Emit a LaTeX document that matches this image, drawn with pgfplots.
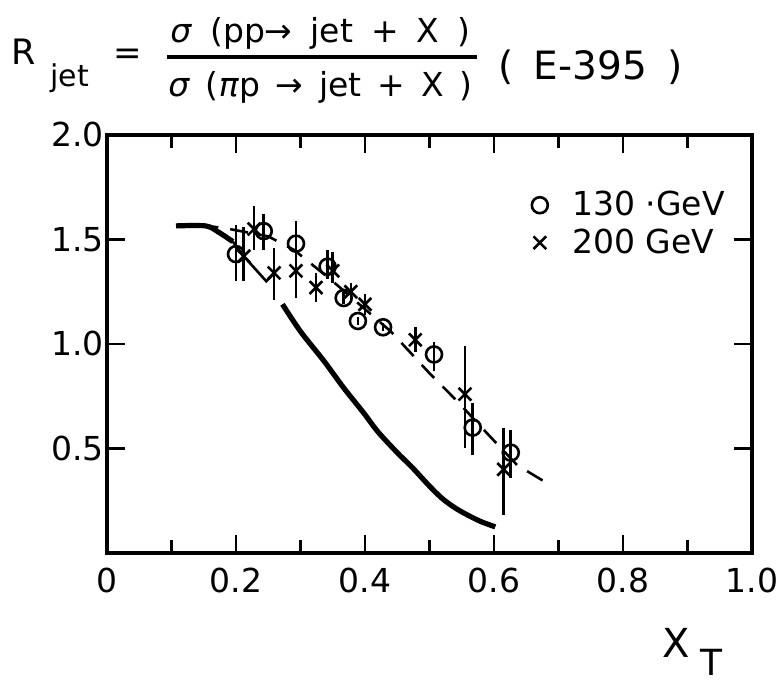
\documentclass[border=0pt]{standalone}
\usepackage{pgfplots}
\pgfplotsset{compat=1.18}
\usepackage{fontspec}
\setmainfont{DejaVu Sans}

\begin{document}
\begin{tikzpicture}[x=1pt,y=1pt]
\useasboundingbox (0,0) rectangle (390.5,344);
\begin{axis}[
  at={(53.5pt,67.5pt)}, anchor=south west,
  scale only axis, width=322.5pt, height=209pt,
  xmin=0, xmax=1, ymin=0, ymax=2,
  axis line style={line width=1.6pt},
  xtick={0,0.2,0.4,0.6,0.8,1.0},
  xticklabels={0,0.2,0.4,0.6,0.8,1.0},
  minor xtick={0.1,0.3,0.5,0.7,0.9},
  ytick={0.5,1.0,1.5,2.0},
  yticklabels={0.5,1.0,1.5,2.0},
  tick align=inside,
  major tick length=9pt, minor tick length=6.5pt,
  every tick/.style={line width=1.3pt, black},
  ticklabel style={font=\fontsize{16.5}{18}\selectfont},
  xticklabel style={yshift=-4pt},
  yticklabel style={xshift=2pt},
  legend style={draw=none, fill=none, at={(rel axis cs:0.645,0.885)}, anchor=north west,
     font=\fontsize{16.5}{18}\selectfont, row sep=1pt, cells={anchor=west}},
  legend image code/.code={\path (-5pt,0pt) (14pt,0pt);
     \draw[mark repeat=2,mark phase=2,#1] plot coordinates {(-5pt,0pt) (0pt,0pt) (14pt,0pt)};},
]
% theory curves
\addplot[line width=2.6pt, smooth, forget plot] coordinates {
 (0.107,1.565) (0.153,1.565) (0.173,1.535) (0.195,1.49)};
\addplot[line width=1.3pt, forget plot] coordinates {
 (0.195,1.49) (0.212,1.42) (0.247,1.30) (0.26,1.34)};
\addplot[line width=2.6pt, smooth, forget plot] coordinates {
 (0.272,1.19) (0.30,1.06) (0.336,0.92) (0.367,0.79) (0.398,0.67) (0.42,0.58)
 (0.45,0.48) (0.473,0.41) (0.50,0.32) (0.52,0.26) (0.54,0.215) (0.56,0.18)
 (0.58,0.15) (0.602,0.125)};
\addplot[line width=1.3pt, dash pattern=on 9pt off 6pt, forget plot] coordinates {
 (0.145,1.57) (0.19,1.55) (0.25,1.515) (0.29,1.45) (0.35,1.30) (0.44,1.06)
 (0.50,0.86) (0.545,0.72) (0.59,0.57) (0.636,0.42) (0.69,0.32)};
% 130 GeV
\addplot[only marks, mark=o, mark size=4pt, mark options={line width=1.3pt, fill=white},
  error bars/.cd, y dir=both, y explicit, error mark=none,
  error bar style={line width=1.3pt}] coordinates {
 (0.200,1.43) += (0,0.14) -= (0,0.13)
 (0.243,1.54) += (0,0.08) -= (0,0.09)
 (0.293,1.48) += (0,0.11) -= (0,0.15)
 (0.342,1.37) += (0,0.08) -= (0,0.06)
 (0.367,1.22) += (0,0.03) -= (0,0.03)
 (0.389,1.11) += (0,0.02) -= (0,0.02)
 (0.428,1.08) += (0,0.02) -= (0,0.02)
 (0.507,0.95) += (0,0.06) -= (0,0.08)
 (0.567,0.60) += (0,0.12) -= (0,0.13)
 (0.626,0.48) += (0,0.11) -= (0,0.12)};
\addlegendentry{130 ·GeV}
% 200 GeV
\addplot[only marks, mark=x, mark size=4.5pt, mark options={line width=1.3pt},
  error bars/.cd, y dir=both, y explicit, error mark=none,
  error bar style={line width=1.3pt}] coordinates {
 (0.212,1.42) += (0,0.14) -= (0,0.12)
 (0.228,1.55) += (0,0.11) -= (0,0.10)
 (0.259,1.34) += (0,0.12) -= (0,0.13)
 (0.293,1.35) += (0,0.05) -= (0,0.13)
 (0.324,1.27) += (0,0.07) -= (0,0.07)
 (0.350,1.35) += (0,0.09) -= (0,0.06)
 (0.378,1.25) += (0,0.04) -= (0,0.04)
 (0.400,1.19) += (0,0.05) -= (0,0.05)
 (0.478,1.02) += (0,0.06) -= (0,0.06)
 (0.555,0.76) += (0,0.23) -= (0,0.26)
 (0.615,0.40) += (0,0.20) -= (0,0.22)};
\addlegendentry{200 GeV}
\end{axis}
% title
\node[anchor=base west, font=\fontsize{17.5}{18}\selectfont, inner sep=0] at (5.5,311.5) {R};
\node[anchor=base west, font=\fontsize{15}{16}\selectfont, inner sep=0] at (25,300.5) {jet};
\node[font=\fontsize{17}{18}\selectfont, inner sep=0] at (64,315.5) {=};
\node[anchor=base west, font=\fontsize{16.5}{18}\selectfont, inner sep=0] at (85,322.5)
  {\makebox[150pt][s]{\textit{σ} (pp→ jet + X )}};
\draw[line width=2pt] (83.5,315.5) -- (238.5,315.5);
\node[anchor=base west, font=\fontsize{16.5}{18}\selectfont, inner sep=0] at (84,295.5)
  {\makebox[152pt][s]{\textit{σ} (\textit{π}p → jet + X )}};
\node[anchor=base west, font=\fontsize{19.5}{22}\selectfont, inner sep=0] at (249,304)
  {\makebox[92pt][s]{( E-395 )}};
% x label
\node[anchor=base west, font=\fontsize{20}{22}\selectfont, inner sep=0] at (331,15) {X};
\node[anchor=base west, font=\fontsize{18}{20}\selectfont, inner sep=0] at (350,6) {T};
\end{tikzpicture}
\end{document}
